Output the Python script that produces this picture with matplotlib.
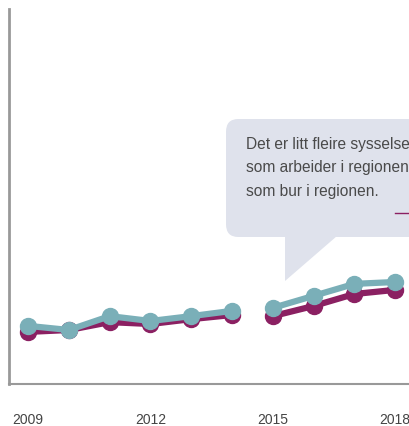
import matplotlib.pyplot as plt
from matplotlib.patches import FancyBboxPatch, Polygon

years = [2009, 2010, 2011, 2012, 2013, 2014, 2015, 2016, 2017, 2018]
# sysselsette som bur i regionen / som arbeider i regionen (estimated, no y labels)
bur = [13.9, 14.4, 16.5, 16.0, 17.3, 18.4, 18.1, 20.8, 24.0, 25.1]
arbeider = [15.5, 14.4, 18.1, 16.8, 18.1, 19.5, 20.3, 23.5, 26.7, 27.2]
tick_years = [2009, 2012, 2015, 2018]
callout = "Det er litt fleire sysselsette\nsom arbeider i regionen enn\nsom bur i regionen."
split = 6  # break in series between 2014 and 2015

W, H = 409, 427
fig = plt.figure(figsize=(W / 100, H / 100), dpi=100)
fig.patch.set_facecolor('white')
ax = fig.add_axes([9 / W, (H - 385) / H, 400 / W, 375 / H])

purple = '#8b2062'
teal = '#7aafb8'
for s, c in ((bur, purple), (arbeider, teal)):
    ax.plot(years[:split], s[:split], color=c, lw=4.5, marker='o', ms=11.5, solid_capstyle='round')
    ax.plot(years[split:], s[split:], color=c, lw=4.5, marker='o', ms=11.5, solid_capstyle='round')

ax.set_xlim(2008.53, 2018.34)
ax.set_ylim(0, 100)
ax.set_yticks([])
ax.set_xticks(tick_years)
ax.set_xticklabels([str(y) for y in tick_years], fontsize=10, color='#444444', family='Liberation Sans')
ax.tick_params(axis='x', length=0, pad=20)
for sp in ['top', 'right']:
    ax.spines[sp].set_visible(False)
ax.spines['left'].set_color('#999999')
ax.spines['left'].set_linewidth(2)
ax.spines['bottom'].set_color('#999999')
ax.spines['bottom'].set_linewidth(1.5)

# callout bubble in pixel-based figure fractions
def fx(px):
    return px / W

def fy(py):
    return (H - py) / H

box = FancyBboxPatch((fx(226), fy(238)), fx(260), fy(120) - fy(238),
                     boxstyle='round,pad=0,rounding_size=0.03',
                     transform=fig.transFigure, facecolor='#dfe2ec', edgecolor='none', zorder=5)
fig.patches.append(box)
tri = Polygon([(fx(285), fy(237)), (fx(337), fy(237)), (fx(285), fy(282))],
              closed=True, transform=fig.transFigure, facecolor='#dfe2ec', edgecolor='none', zorder=5)
fig.patches.append(tri)
fig.text(fx(246), fy(137), callout, fontsize=11.2, color='#4a4a4a', family='Liberation Sans',
         va='top', ha='left', linespacing=1.7, zorder=6)
fig.add_artist(plt.Line2D([fx(395), fx(420)], [fy(214), fy(214)], transform=fig.transFigure,
                          color=purple, lw=1, zorder=6))

fig.savefig('out.png', dpi=100)
